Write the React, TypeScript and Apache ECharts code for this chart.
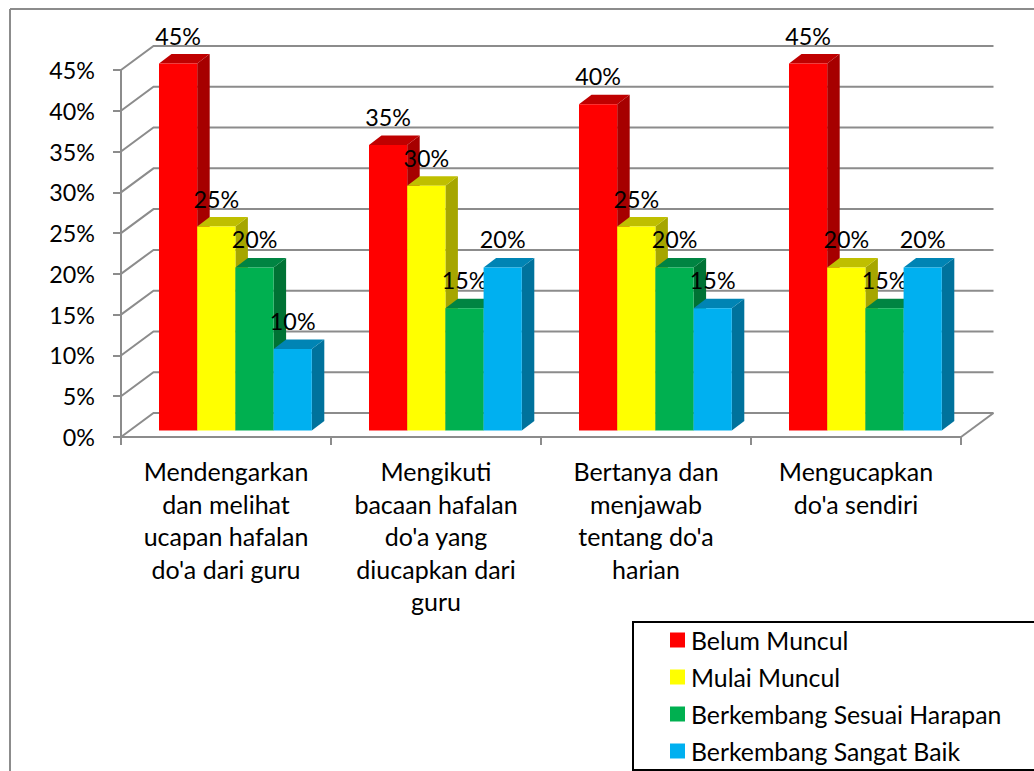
import React, { useEffect, useRef } from "react";
import * as echarts from "echarts";

const categories = [
  "Mendengarkan\ndan melihat\nucapan hafalan\ndo'a dari guru",
  "Mengikuti\nbacaan hafalan\ndo'a yang\ndiucapkan dari\nguru",
  "Bertanya dan\nmenjawab\ntentang do'a\nharian",
  "Mengucapkan\ndo'a sendiri",
];
const belumMuncul = [45, 35, 40, 45];
const mulaiMuncul = [25, 30, 25, 20];
const berkembangSesuai = [20, 15, 20, 15];
const berkembangSangat = [10, 20, 15, 20];
const yTicks = [0, 5, 10, 15, 20, 25, 30, 35, 40, 45];

const seriesNames = ["Belum Muncul", "Mulai Muncul", "Berkembang Sesuai Harapan", "Berkembang Sangat Baik"];
const seriesValues = [belumMuncul, mulaiMuncul, berkembangSesuai, berkembangSangat];
const frontColors = ["#FF0000", "#FFFF00", "#00B050", "#00B0F0"];
const topColors = ["#BF0000", "#BFBF00", "#008442", "#0084B4"];
const sideColors = ["#A60000", "#A6A600", "#007234", "#00729C"];

const FONT = "Lato";
const FS = 25;
const FS_LEGEND = 24.8;
const FS_NUM = 23.3;
const GRID = "#8C8C8C";
const LW = 2;
const WALL_DX = 32.5;
const WALL_DY = 24;
const BAR_DX = 12.5;
const BAR_DY = 9.5;
const BAR_W = 38.2;
const GROUP_LEFT = 38;
const BASE_LIFT = 6.5;

function wallItem(params: any, api: any) {
  const sys = params.coordSys;
  const y = api.coord([0, api.value(0)])[1];
  const value = api.value(0);
  const left = sys.x;
  const right = sys.x + sys.width;
  const style = { stroke: GRID, lineWidth: LW, fill: "none" };
  const children: any[] = [
    {
      type: "polyline",
      shape: {
        points: [
          [left, y],
          [left + WALL_DX, y - WALL_DY],
          [right + WALL_DX, y - WALL_DY],
        ],
      },
      style,
    },
  ];
  if (value === 0) {
    children.push({
      type: "line",
      shape: { x1: right, y1: y, x2: right + WALL_DX, y2: y - WALL_DY },
      style,
    });
  }
  return { type: "group", children };
}

function barItem(idx: number) {
  return (_params: any, api: any) => {
    const cat = api.value(0);
    const val = api.value(1);
    const top = api.coord([cat, val]);
    const base = api.coord([cat, 0]);
    const band = api.size([1, 0])[0];
    const x = top[0] - band / 2 + GROUP_LEFT + idx * BAR_W;
    const yT = top[1] - BASE_LIFT;
    const yB = base[1] - BASE_LIFT;
    const w = BAR_W;
    return {
      type: "group",
      children: [
        {
          type: "polygon",
          shape: { points: [[x + w, yT], [x + w + BAR_DX, yT - BAR_DY], [x + w + BAR_DX, yB - BAR_DY], [x + w, yB]] },
          style: { fill: sideColors[idx] },
        },
        {
          type: "polygon",
          shape: { points: [[x, yT], [x + BAR_DX, yT - BAR_DY], [x + w + BAR_DX, yT - BAR_DY], [x + w, yT]] },
          style: { fill: topColors[idx] },
        },
        {
          type: "polygon",
          shape: { points: [[x, yT], [x + w, yT], [x + w, yB], [x, yB]] },
          style: { fill: frontColors[idx] },
        },
        {
          type: "text",
          x: x + w / 2,
          y: yT - 28,
          z2: 100,
          style: {
            text: `${val}%`,
            fontFamily: FONT,
            fontSize: FS_NUM,
            fill: "#000",
            align: "center",
            verticalAlign: "middle",
            textAlign: "center",
            textVerticalAlign: "middle",
          },
        },
      ],
    };
  };
}

export default function App() {
  const ref = useRef<HTMLDivElement>(null);
  useEffect(() => {
    const chart = echarts.init(ref.current!, undefined, { renderer: "svg" });
    const option: any = {
      animation: false,
      backgroundColor: "#fff",
      grid: { left: 121, top: 70, width: 840, height: 367 },
      xAxis: {
        type: "category",
        data: categories,
        axisLine: { show: true, lineStyle: { color: GRID, width: LW } },
        axisTick: { show: true, length: 8, alignWithLabel: false, lineStyle: { color: GRID, width: LW } },
        axisLabel: {
          interval: 0,
          margin: 18,
          fontFamily: FONT,
          fontSize: FS,
          color: "#000",
          lineHeight: 32.5,
          align: "center",
        },
      },
      yAxis: {
        type: "value",
        min: 0,
        max: 45,
        interval: 5,
        splitLine: { show: false },
        axisLine: { show: true, lineStyle: { color: GRID, width: LW } },
        axisTick: { show: true, length: 8, lineStyle: { color: GRID, width: LW } },
        axisLabel: { margin: 26, fontFamily: FONT, fontSize: FS_NUM, color: "#000", formatter: "{value}%" },
      },
      legend: {
        orient: "vertical",
        left: 670,
        top: 627,
        padding: 0,
        data: seriesNames,
        icon: "rect",
        itemWidth: 15,
        itemHeight: 15,
        itemGap: 11,
        z: 20,
        textStyle: { fontFamily: FONT, fontSize: FS_LEGEND, color: "#000", lineHeight: 26, padding: [0, 0, 0, 1] },
      },
      graphic: [
        { type: "line", z: 1, shape: { x1: 10, y1: 9, x2: 1034, y2: 9 }, style: { stroke: GRID, lineWidth: LW } },
        { type: "line", z: 1, shape: { x1: 10, y1: 9, x2: 10, y2: 771 }, style: { stroke: GRID, lineWidth: LW } },
        { type: "rect", z: 10, shape: { x: 633, y: 622, width: 401, height: 148 }, style: { fill: "#fff", stroke: "none" } },
        { type: "polyline", z: 11, shape: { points: [[1034, 622], [633, 622], [633, 770], [1034, 770]] }, style: { stroke: "#000", lineWidth: 2, fill: "none" } },
      ],
      series: [
        {
          type: "custom",
          name: "wall",
          data: yTicks.map((t) => [t]),
          encode: { y: 0 },
          renderItem: wallItem,
          clip: false,
          silent: true,
          z: 1,
        },
        ...seriesNames.map((name, i) => ({
          type: "custom",
          name,
          itemStyle: { color: frontColors[i] },
          data: seriesValues[i].map((v, c) => [c, v]),
          encode: { x: 0, y: 1 },
          renderItem: barItem(i),
          clip: false,
          z: 3 + i,
        })),
      ],
    };
    chart.setOption(option);
    return () => chart.dispose();
  }, []);
  return <div ref={ref} style={{ position: "absolute", left: 0, top: 0, width: 1034, height: 771 }} />;
}
